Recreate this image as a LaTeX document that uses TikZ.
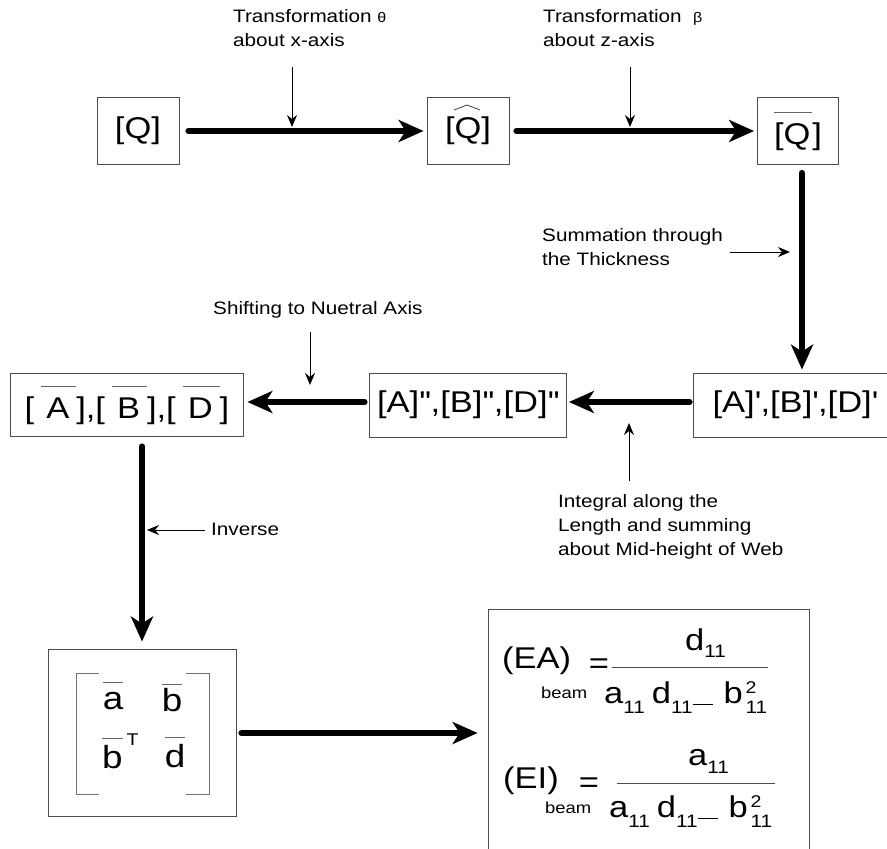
\documentclass[tikz,border=0pt]{standalone}
\usepackage{amsmath}
\usepackage{fontspec}
\setmainfont{Liberation Sans}[FakeStretch=1.15]
\usetikzlibrary{arrows.meta}

\newcommand{\ovr}[2][1.05em]{\setbox0=\hbox{#2}\leavevmode\rlap{\color{black!60}\rule[#1]{\wd0}{0.9pt}}\box0}
\newcommand{\lo}[2][-10pt]{\raisebox{#1}{\fontsize{18}{18}\selectfont #2}}
\newcommand{\hi}[1]{\raisebox{10pt}{\fontsize{17}{17}\selectfont #1}}
\newcommand{\dsh}{\rule[-2pt]{20pt}{1.2pt}}
\newcommand{\tk}{\textquotesingle}

\tikzset{
  box/.style={draw=black!70, line width=0.8pt, inner sep=0pt, font=\fontsize{30}{36}\selectfont},
  flow/.style={line width=6pt, line cap=round, -{Stealth[length=25pt,width=22pt,inset=7pt]}},
  hint/.style={line width=1pt, -{Stealth[length=12pt,width=10pt,inset=4pt]}},
  note/.style={align=left, inner sep=0pt, font=\fontsize{18}{24}\selectfont},
  eqtxt/.style={inner sep=0pt, font=\fontsize{30}{36}\selectfont},
  beamtxt/.style={inner sep=0pt, font=\fontsize{16}{16}\selectfont},
  cell/.style={inner sep=0pt, font=\fontsize{32}{36}\selectfont},
}

\begin{document}
\begin{tikzpicture}[x=1pt,y=-1pt,node distance=330pt]
  \useasboundingbox (0,0) rectangle (887,849);
  \clip (0,0) rectangle (887,849);

  % main chain
  \node[box, minimum width=82pt, minimum height=67pt] (q) at (138,131) {[Q]};
  \node[box, minimum width=82pt, minimum height=67pt] (qhat) [right of=q] {[Q]};
  \node[box, minimum width=81pt, minimum height=67pt] (qbar) [right of=qhat] {\ovr{[Q\hspace{2pt}}]};
  \node[box, minimum width=204pt, minimum height=64pt, xshift=-3pt] (aprime) [below of=qbar, node distance=274pt] {[A]\tk,[B]\tk,[D]\tk};
  \node[box, minimum width=197pt, minimum height=64pt] (adprime) [left of=aprime, node distance=327pt] {[A]\tk\tk,[B]\tk\tk,[D]\tk\tk};
  \node[box, minimum width=233pt, minimum height=63pt] (abar) [left of=adprime, node distance=341pt]
    {[\hspace{7pt}\ovr{\hspace{5pt}A\hspace{7pt}}],[\hspace{7pt}\ovr{\hspace{5pt}B\hspace{7pt}}],[\hspace{7pt}\ovr{\hspace{5pt}D\hspace{7pt}}]};
  \node[box, minimum width=188pt, minimum height=167pt] (mat) [below of=abar, node distance=328pt, xshift=15pt] {};
  \node[box, minimum width=321pt, minimum height=248pt] (res) [right of=mat, node distance=507pt] {};

  \draw[black!75, line width=0.8pt] ([shift={(-14,-21)}]qhat.center) -- ([shift={(-1,-26)}]qhat.center) -- ([shift={(12,-21)}]qhat.center);

  \draw[flow, shorten <=9pt, shorten >=3pt] (q) -- (qhat);
  \draw[flow, shorten <=7pt, shorten >=3pt] (qhat) -- (qbar);
  \draw[flow, shorten <=8pt, shorten >=3pt] ([xshift=4pt]qbar.south) -- ([xshift=4pt]qbar.south |- aprime.north);
  \draw[flow, shorten <=3pt, shorten >=2pt] ([yshift=3pt]aprime.west) -- ([yshift=3pt]adprime.east);
  \draw[flow, shorten <=4.5pt, shorten >=3.5pt] ([yshift=3pt]adprime.west) -- ([yshift=3pt]abar.east);
  \draw[flow, shorten <=9.5pt, shorten >=7.5pt] ([xshift=15pt]abar.south) -- (mat.north);
  \draw[flow, shorten <=5pt, shorten >=10.5pt] (mat) -- (res);

  % labels and pointers
  \node[note, anchor=north west] (l1) at (233,9) {Transformation {\fontsize{14}{14}\selectfont θ}\\about x-axis};
  \node[note, anchor=north west] (l2) at (543,9) {Transformation\ \ {\fontsize{14}{14}\selectfont β}\\about z-axis};
  \node[note, anchor=north west] (l3) at (542,228) {Summation through\\the Thickness};
  \node[note, anchor=north west] (l4) at (213,301) {Shifting to Nuetral Axis};
  \node[note, anchor=north west] (l5) at (558,494) {Integral along the\\Length and summing\\about Mid-height of Web};
  \node[note, anchor=west] (l6) at (211,529) {Inverse};

  \coordinate (h1) at (292,67);
  \coordinate (h2) at (630,67);
  \coordinate (h3) at (730,252);
  \coordinate (h4) at (310,332);
  \coordinate (h5) at (629,481);
  \coordinate (h6) at (205,530);
  \draw[hint, shorten >=4pt] (h1) -- (h1 |- q.center);
  \draw[hint, shorten >=4pt] (h2) -- (h2 |- qbar.center);
  \draw[hint, shorten >=8pt] (h3) -- (h3 -| qbar.center);
  \draw[hint, shorten >=20pt] (h4) -- (h4 |- adprime.center);
  \draw[hint, shorten >=18pt] (h5) -- (h5 |- aprime.center);
  \draw[hint, shorten >=5pt] (h6) -- (h6 -| mat.north);

  % matrix
  \draw[black!55, line width=0.9pt] ([shift={(-43,-60)}]mat.center) -- ++(-23,0) -- ++(0,121) -- ++(23,0);
  \draw[black!55, line width=0.9pt] ([shift={(44,-60)}]mat.center) -- ++(23,0) -- ++(0,121) -- ++(-23,0);
  \node[cell, anchor=base] (m11) at (113,709) {\ovr[0.82em]{a}};
  \node[cell, anchor=base] (m12) at (172,711) {\ovr[0.82em]{b}};
  \node[cell, anchor=base west] (m21) at (102,768) {\ovr[0.9em]{b}\hspace{4pt}\raisebox{23pt}{\fontsize{17}{17}\selectfont T}};
  \node[cell, anchor=base] (m22) at (175,767) {\ovr[0.9em]{d}};

  % beam stiffness
  \node[eqtxt, anchor=base west] (ea) at (502,668) {(EA)};
  \node[beamtxt, anchor=base west] (eab) at (541,698) {beam};
  \node[eqtxt, anchor=base] (eaq) at (599,673) {=};
  \node[eqtxt, anchor=base west] (ean) at (685,650) {d\lo[-7pt]{11}};
  \node[eqtxt, anchor=base west] (ead) at (604,703) {a\lo{11}\hspace{7pt}d\lo{11}\dsh\hspace{11pt}b\hspace{3pt}\rlap{\hi{2}}\lo{11}};
  \draw[black!70, line width=0.8pt] (612,667) -- (768,667);

  \node[eqtxt, anchor=base west] (ei) at (503,788) {(EI)};
  \node[beamtxt, anchor=base west] (eib) at (545,813) {beam};
  \node[eqtxt, anchor=base] (eiq) at (589,792) {=};
  \node[eqtxt, anchor=base west] (ein) at (688,765) {a\lo[-8pt]{11}};
  \node[eqtxt, anchor=base west] (eid) at (609,817) {a\lo{11}\hspace{7pt}d\lo{11}\dsh\hspace{11pt}b\hspace{3pt}\rlap{\hi{2}}\lo{11}};
  \draw[black!70, line width=0.8pt] (617,783) -- (775,783);
\end{tikzpicture}
\end{document}
